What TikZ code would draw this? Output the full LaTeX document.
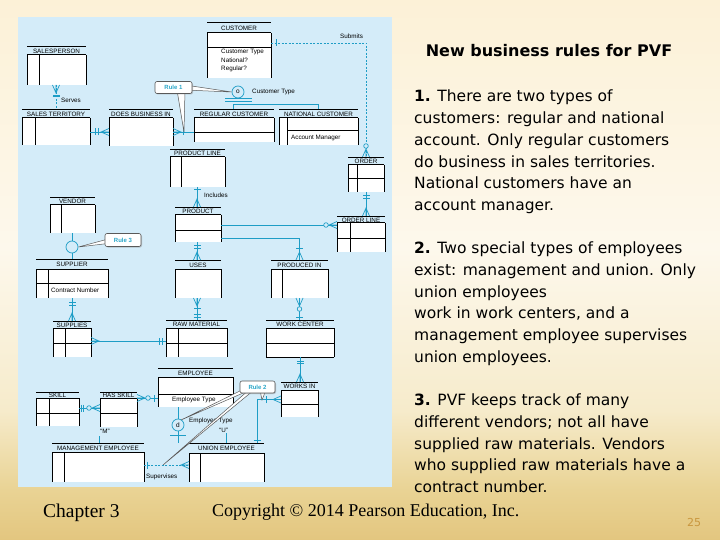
\documentclass[tikz,border=0pt]{standalone}
\usepackage{fontspec}
\setmainfont{DejaVu Sans}
\newfontfamily\erfont{Liberation Sans}
\newfontfamily\serfont{Liberation Serif}
\usetikzlibrary{shadows}
\definecolor{panel}{HTML}{D4ECF9}
\definecolor{conn}{HTML}{1E9DC6}
\definecolor{ruletxt}{HTML}{2AA6C8}
\definecolor{pnum}{HTML}{C9973F}
\definecolor{bgA}{HTML}{E3C67F}
\definecolor{bgB}{HTML}{E9D394}
\definecolor{bgC}{HTML}{F6EBCB}
\definecolor{bgD}{HTML}{FDF8EC}
\definecolor{bgE}{HTML}{FCF1D7}
\pgfdeclareverticalshading{slidebg}{100bp}{color(0bp)=(bgA); color(25bp)=(bgA); color(29.6bp)=(bgB); color(37bp)=(bgC); color(52bp)=(bgD); color(75bp)=(bgE); color(100bp)=(bgE)}
\tikzset{
  cl/.style={draw=conn, line width=0.7pt},
  cdash/.style={cl, dash pattern=on 2pt off 1.5pt},
  crow/.pic={\draw[cl] (-3.5,0) -- (0,-8) -- (3.5,0) (0,0) -- (0,-8);},
  tk/.pic={\draw[cl] (-3.5,-#1) -- (3.5,-#1);},
  ci/.pic={\draw[cl, fill=panel] (0,-#1) circle[radius=2.3];},
  ebox/.style={inner sep=0, outer sep=0, anchor=north west},
  ehead/.style={font=\erfont\fontsize{6.3}{7}\selectfont, inner sep=0},
  elbl/.style={font=\erfont\fontsize{6.3}{7}\selectfont, inner sep=0, anchor=west},
  ercirc/.style={circle, draw=conn, line width=0.7pt, fill=panel, minimum size=12pt, inner sep=0, font=\erfont\fontsize{6.5}{7}\selectfont},
  callbox/.style={draw=black!65, fill=white, rounded corners=2pt, line width=0.6pt, text=ruletxt, font=\erfont\bfseries\fontsize{6}{7}\selectfont, inner sep=0, drop shadow={shadow xshift=1pt, shadow yshift=-1pt, opacity=0.4}},
  tail/.style={fill=white, draw=black!65, line width=0.5pt},
  enl/.style={line width=0.6pt},
}
\newcommand\ent[7]{%
  \pgfmathsetmacro\entw{#5-#2}%
  \pgfmathsetmacro\enth{#6-#3}%
  \node[ebox, minimum width=\entw pt, minimum height=\enth pt] (#1) at (#2,#3) {};
  \fill[white] (#2,#4) rectangle (#5,#6);
  \draw[enl] (#2,#3) -- (#5,#3);
  \draw[line width=1pt] (#2,#4) -- (#5,#4);
  \draw[enl] (#2,#4) -- (#2,#6) (#5,#4) -- (#5,#6);
  \node[ehead] (#1-t) at ({(#2+#5)/2},{(#3+#4)/2+0.5}) {#7};
}
\begin{document}
\begin{tikzpicture}[x=1pt, y=-1pt]
\useasboundingbox (0,0) rectangle (720,540);
\shade[shading=slidebg] (0,0) rectangle (720,540);
\fill[panel] (18,17) rectangle (392,487);

% entities
\ent{salesperson}{27}{46}{55}{86}{85}{SALESPERSON}
\draw[enl] (39,55) -- (39,85);
\ent{salesterr}{22}{109}{118}{90}{145}{SALES TERRITORY}
\draw[enl] (35,118) -- (35,145);
\ent{doesbiz}{109}{109}{118}{173}{146}{DOES BUSINESS IN}
\ent{customer}{207}{22}{33}{271}{78}{CUSTOMER}
\draw[enl] (207,47) -- (271,47);
\node[elbl] (ct1) at (221,52) {Customer Type};
\node[elbl] (ct2) at (221,60.5) {National?};
\node[elbl] (ct3) at (221,69) {Regular?};
\ent{regcust}{194}{109}{118}{274}{142}{REGULAR CUSTOMER}
\draw[enl] (194,132) -- (274,132);
\ent{natcust}{279}{109}{118}{358}{145}{NATIONAL CUSTOMER}
\draw[enl] (287,118) -- (287,145) (287,130) -- (358,130);
\node[elbl] (am) at (291,138) {Account Manager};
\ent{prodline}{170}{149}{157}{225}{187}{PRODUCT LINE}
\draw[enl] (181,157) -- (181,187);
\ent{product}{175}{207}{215}{221}{242}{PRODUCT}
\draw[enl] (175,230) -- (221,230);
\ent{order}{348}{157}{165}{384}{192}{ORDER}
\draw[enl] (357,165) -- (357,192) (348,178) -- (384,178);
\ent{orderline}{337}{216}{223}{385}{252}{ORDER LINE}
\draw[enl] (350,223) -- (350,252) (337,238) -- (385,238);
\ent{vendor}{50}{197}{205}{95}{233}{VENDOR}
\draw[enl] (61,205) -- (61,233);
\ent{supplier}{36}{259}{269}{108}{298}{SUPPLIER}
\draw[enl] (48,269) -- (48,298) (36,283) -- (108,283);
\node[elbl] (cn) at (51,290) {Contract Number};
\ent{uses}{175}{260}{269}{221}{298}{USES}
\ent{producedin}{271}{260}{269}{328}{298}{PRODUCED IN}
\draw[enl] (282,269) -- (282,298);
\ent{supplies}{53}{321}{328}{91}{357}{SUPPLIES}
\draw[enl] (65,328) -- (65,357) (53,343) -- (91,343);
\ent{rawmat}{166}{320}{328}{227}{357}{RAW MATERIAL}
\draw[enl] (178,328) -- (178,357) (166,343) -- (227,343);
\ent{workcenter}{266}{320}{328}{334}{357}{WORK CENTER}
\draw[enl] (266,343) -- (334,343) (266,357) -- (334,357);
\ent{employee}{158}{368}{377}{233}{407}{EMPLOYEE}
\draw[enl] (158,394) -- (233,394);
\node[elbl] (et) at (172,399.5) {Employee Type};
\ent{skill}{36}{392}{398}{79}{426}{SKILL}
\draw[enl] (49,398) -- (49,426) (36,413) -- (79,413);
\ent{hasskill}{100}{392}{398}{137}{427}{HAS SKILL}
\draw[enl] (100,413) -- (137,413);
\ent{worksin}{281}{382}{390}{318}{417}{WORKS IN}
\draw[enl] (281,404) -- (318,404);
\ent{mgmt}{52}{443}{452}{144}{482}{MANAGEMENT EMPLOYEE}
\draw[enl] (64,452) -- (64,482);
\ent{union}{189}{443}{453}{264}{482}{UNION EMPLOYEE}
\draw[enl] (200,453) -- (200,482);

% connectors
\draw[cdash] (salesperson.south -| 56,0) -- (salesterr.north -| 56,0);
\pic[rotate=180] at (56,85) {crow};
\pic[rotate=180] at (56,85) {tk=10};
\pic at (56,109) {tk=13};
\node[elbl] (serves) at (61,100) {Serves};

\draw[cl] (salesterr.east |- 0,132) -- (doesbiz.west |- 0,132);
\pic[rotate=-90] at (90,132) {tk=5};
\pic[rotate=90] at (109,132) {crow};
\pic[rotate=90] at (109,132) {tk=11};

\draw[cl] (doesbiz.east |- 0,132) -- (regcust.west |- 0,132);
\pic[rotate=-90] at (173,132) {crow};
\pic[rotate=-90] at (173,132) {tk=10};

\draw[cdash] (customer.east |- 0,43) -| (order.north);
\pic[rotate=-90] at (271,43) {tk=5};
\pic at (366,157) {crow};
\pic at (366,157) {ci=11};
\node[elbl] (submits) at (340,36) {Submits};

\node[ercirc] (ctype) at (238,92) {o};
\draw[cl] (225,98.5) -- (252,98.5) (225,101) -- (252,101);
\draw[cl] (regcust.north -| 233,0) -- ++(0,-5) -| (natcust.north -| 318,0);
\node[elbl] (ctl) at (252,92) {Customer Type};

\draw[cl] (prodline.south -| 197,0) -- (product.north -| 197,0);
\pic[rotate=180] at (197,187) {tk=2};
\pic at (197,207) {crow};
\node[elbl] (incl) at (204,195) {Includes};

\draw[cl] (order.south) -- (order.south |- orderline.north);
\pic[rotate=180] at (366,192) {tk=3};
\pic[rotate=180] at (366,192) {tk=6};
\pic at (366,216) {crow};

\draw[cl] (product.east |- 0,225) -- (orderline.west |- 0,225);
\pic[rotate=90] at (337,225) {crow};
\pic[rotate=90] at (337,225) {ci=11};

\draw[cl] (product.east |- 0,238) -| (producedin.north);
\pic at (299.5,260) {crow};
\pic at (299.5,260) {tk=12};

\draw[cl] (product.south -| 197,0) -- (uses.north -| 197,0);
\pic[rotate=180] at (197,242) {tk=3};
\pic[rotate=180] at (197,242) {tk=6};
\pic at (197,260) {crow};

\draw[cl] (vendor.south -| 72,0) -- (supplier.north -| 72,0);
\node[ercirc] (vcirc) at (72,247) {};

\draw[cl] (supplier.south -| 72,0) -- (supplies.north -| 72,0);
\pic[rotate=180] at (72,298) {tk=4};
\pic[rotate=180] at (72,298) {tk=7};
\pic at (72,321) {crow};

\draw[cl] (supplies.east |- 0,341) -- (rawmat.west |- 0,341);
\pic[rotate=-90] at (91,341) {crow};
\pic[rotate=90] at (166,341) {tk=4};
\pic[rotate=90] at (166,341) {tk=6.5};

\draw[cl] (uses.south -| 197,0) -- (rawmat.north -| 197,0);
\pic[rotate=180] at (197,298) {crow};
\pic[rotate=180] at (197,298) {tk=10};
\pic at (197,320) {tk=3};
\pic at (197,320) {tk=5.5};

\draw[cl] (producedin.south) -- (producedin.south |- workcenter.north);
\pic[rotate=180] at (299.5,298) {crow};
\pic[rotate=180] at (299.5,298) {ci=11};
\pic at (299.5,320) {tk=3};

\draw[cl] (workcenter.south) -- (workcenter.south |- worksin.north);
\pic[rotate=180] at (300,357) {tk=4};
\pic[rotate=180] at (300,357) {tk=6.5};
\pic at (300,382) {crow};

\draw[cl] (skill.east |- 0,408) -- (hasskill.west |- 0,408);
\pic[rotate=-90] at (79,408) {tk=2};
\pic[rotate=-90] at (79,408) {tk=4.5};
\pic[rotate=90] at (100,408) {crow};
\pic[rotate=90] at (100,408) {ci=11};

\draw[cl] (hasskill.east |- 0,398) -- (employee.west |- 0,398);
\pic[rotate=-90] at (137,398) {crow};
\pic[rotate=-90] at (137,398) {ci=11};
\pic[rotate=90] at (158,398) {tk=4};

\node[ercirc] (ecirc) at (178,425) {d};
\draw[cl] (employee.south -| 178,0) -- (ecirc.north);
\draw[cl] (ecirc.south) -- ++(0,12);
\draw[cl] (170,435) -- (186,435);
\draw[cl] (mgmt.north -| 99,0) -- ++(0,-7);
\draw[cl] (union.north -| 226,0) -- ++(0,-10);
\node[elbl] (lm) at (100,431) {“M”};
\node[elbl] (lu) at (219,430) {“U”};
\node[elbl] (etl) at (189,421) {Employee Type};

\draw[cdash] (mgmt.east |- 0,465) -- (union.west |- 0,465);
\pic[rotate=-90] at (144,465) {tk=3};
\pic[rotate=90] at (189,465) {crow};
\node[elbl] (sup) at (146,477) {Supervises};

\draw[cl] (union.north -| 257,0) |- (worksin.west);
\pic at (257,443) {tk=3};
\pic[rotate=90] at (281,399.5) {crow};
\pic[rotate=90] at (281,399.5) {tk=15};

% callouts
\filldraw[tail] (185,85) -- (ctype.west) -- (185,90) -- cycle;
\filldraw[tail] (177,90) -- (184,132) -- (185,90) -- cycle;
\node[callbox, minimum width=37pt, minimum height=12pt] (rule1) at (173.5,87.5) {Rule 1};
\filldraw[tail] (112,238) -- (vcirc.east) -- (112,243) -- cycle;
\node[callbox, minimum width=36pt, minimum height=13pt] (rule3) at (123,240) {Rule 3};
\filldraw[tail] (246,388) -- (181,420) -- (250,390) -- cycle;
\filldraw[tail] (250,389) -- (163,465) -- (254,390) -- cycle;
\filldraw[tail] (260,390) -- (262,400) -- (266,390) -- cycle;
\node[callbox, minimum width=35pt, minimum height=12pt] (rule2) at (257.5,387) {Rule 2};

% right text
\node[font=\bfseries\fontsize{16}{19}\selectfont, inner sep=0] (title) at (549,51) {New business rules for PVF};
\node[anchor=north west, inner sep=0, align=left, font=\fontsize{15.5}{21.7}\selectfont] (rules) at (414,90) {%
\textbf{1.} There are two types of\\
customers: regular and national\\
account. Only regular customers\\
do business in sales territories.\\
National customers have an\\
account manager.\\[21.7pt]
\textbf{2.} Two special types of employees\\
exist: management and union. Only\\
union employees\\
work in work centers, and a\\
management employee supervises\\
union employees.\\[21.7pt]
\textbf{3.} PVF keeps track of many\\
different vendors; not all have\\
supplied raw materials. Vendors\\
who supplied raw materials have a\\
contract number.};

% footer
\node[anchor=base west, inner sep=0, font=\serfont\fontsize{19.5}{23}\selectfont] (chap) at (43,517) {Chapter 3};
\node[anchor=base west, inner sep=0, font=\serfont\fontsize{18}{22}\selectfont] (copy) at (212,516) {Copyright © 2014 Pearson Education, Inc.};
\node[inner sep=0, text=pnum, font=\fontsize{11}{13}\selectfont] (pg) at (694,522) {25};
\end{tikzpicture}
\end{document}
